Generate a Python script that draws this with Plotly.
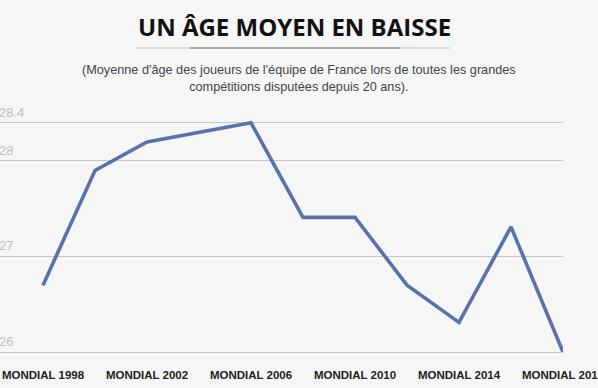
import plotly.graph_objects as go

competitions = ["Mondial 1998", "Euro 2000", "Mondial 2002", "Euro 2004", "Mondial 2006",
                "Euro 2008", "Mondial 2010", "Euro 2012", "Mondial 2014", "Euro 2016", "Mondial 2018"]
ages = [26.70, 27.90, 28.20, 28.30, 28.40, 27.41, 27.41, 26.70, 26.31, 27.31, 26.00]
x_tick_labels = ["MONDIAL 1998", "MONDIAL 2002", "MONDIAL 2006", "MONDIAL 2010", "MONDIAL 2014", "MONDIAL 2018"]
y_tick_values = [26, 27, 28, 28.4]

x_index = list(range(len(competitions)))

fig = go.Figure()
fig.add_trace(go.Scatter(
    x=x_index, y=ages, mode="lines",
    line=dict(color="#5a72ac", width=3.6),
    text=competitions, hoverinfo="text+y",
    cliponaxis=False,
))

bg = "#f6f6f6"
fig.update_layout(
    width=598, height=388,
    margin=dict(l=0, r=35, t=118, b=36),
    paper_bgcolor=bg, plot_bgcolor=bg,
    showlegend=False,
    xaxis=dict(
        range=[-0.827, 10], tickvals=[0, 2, 4, 6, 8, 10], ticktext=x_tick_labels,
        showgrid=False, zeroline=False, showline=True, linecolor="#c9c9c9", linewidth=1,
        automargin=False,
        tickfont=dict(family="Liberation Sans, Arial", size=11.5, color="#222222", weight="bold"),
        ticks="", ticklen=0, ticklabeloverflow="allow", ticklabelstandoff=12,
    ),
    yaxis=dict(
        range=[26, 28.45], tickvals=y_tick_values, showticklabels=False,
        showgrid=True, gridcolor="#c9c9c9", gridwidth=1, zeroline=False, showline=False,
        automargin=False,
    ),
)

for v in y_tick_values:
    fig.add_annotation(
        x=0, xref="paper", xshift=-3, xanchor="left",
        y=v, yref="y", yanchor="bottom", yshift=1,
        text=f"{v:g}", showarrow=False,
        font=dict(family="Liberation Sans, Arial", size=13, color="#c0c0c0"),
    )


def px_x(px):
    return px / 563.0


def px_y(py):
    return (352.0 - py) / 234.0


fig.add_annotation(
    x=px_x(294), y=px_y(26.5), xref="paper", yref="paper", xanchor="center", yanchor="middle",
    text="<b>UN ÂGE MOYEN EN BAISSE</b>", showarrow=False,
    font=dict(family="Open Sans", size=24, color="#111111"),
)
fig.add_shape(type="line", xref="paper", yref="paper",
              x0=px_x(135), x1=px_x(450), y0=px_y(48), y1=px_y(48),
              line=dict(color="#c4c4c4", width=1))
fig.add_shape(type="line", xref="paper", yref="paper",
              x0=px_x(190), x1=px_x(400), y0=px_y(48), y1=px_y(48),
              line=dict(color="#777777", width=1))
fig.add_annotation(
    x=px_x(299), y=px_y(79), xref="paper", yref="paper", xanchor="center", yanchor="middle",
    text="(Moyenne d'âge des joueurs de l'équipe de France lors de toutes les grandes<br>compétitions disputées depuis 20 ans).",
    showarrow=False, align="center",
    font=dict(family="Liberation Sans, Arial", size=12.7, color="#444444"),
)

fig.write_html("out.html", config={"displayModeBar": False},
               post_script="document.body.style.margin='0';document.body.style.overflow='hidden';")
